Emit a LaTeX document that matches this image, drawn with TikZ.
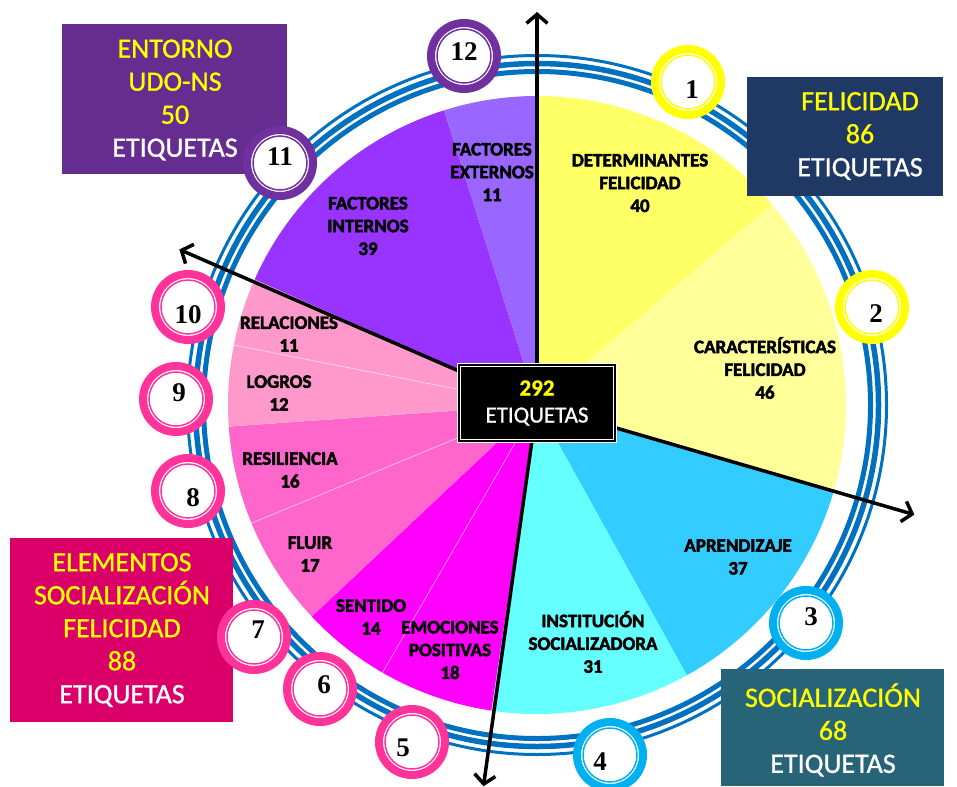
\documentclass[tikz,border=0pt]{standalone}
\usepackage{fontspec}
\setmainfont{Carlito}
\newfontfamily\slicefont{Carlito Bold}[FakeBold=2.5]
\newfontfamily\boxfont{Carlito}[FakeBold=1]
\newfontfamily\numfont{Liberation Serif Bold}
\usetikzlibrary{arrows.meta}

\definecolor{dfel}{HTML}{FFFF66}
\definecolor{cfel}{HTML}{FFFF99}
\definecolor{apren}{HTML}{33CCFF}
\definecolor{isoc}{HTML}{66FFFF}
\definecolor{emo}{HTML}{FF00FF}
\definecolor{fluir}{HTML}{FF66CC}
\definecolor{logro}{HTML}{FF99CC}
\definecolor{fint}{HTML}{9933FF}
\definecolor{fext}{HTML}{9966FF}
\definecolor{ringc}{HTML}{0070C0}
\definecolor{cyel}{HTML}{FFFF00}
\definecolor{cblu}{HTML}{00B0F0}
\definecolor{cpnk}{HTML}{FF3399}
\definecolor{cpur}{HTML}{7030A0}
\definecolor{bxudo}{HTML}{662D91}
\definecolor{bxfel}{HTML}{1F3864}
\definecolor{bxsoc}{HTML}{276478}
\definecolor{bxele}{HTML}{DB0069}
\newcommand{\yw}[1]{\textcolor{cyel}{#1}}

\begin{document}
\begin{tikzpicture}[x=1pt,y=-1pt,>={Straight Barb[length=9pt,width=21pt,line width=3.5pt]},
  slice lbl/.style={font=\slicefont\fontsize{19}{22.8}\selectfont,align=center,inner sep=0pt},
  box/.style={anchor=north west,inner sep=0pt,fill=#1},
  box txt/.style={font=\boxfont\fontsize{28}{33}\selectfont,align=center,text=white,inner sep=0pt},
  num ring/.style={circle,minimum size=66pt,inner sep=0pt,line width=8pt,draw=#1,fill=white,
    path picture={\draw[#1,line width=1.5pt] (path picture bounding box.center) circle[radius=27pt];}},
  num/.style={font=\numfont\fontsize{27}{27}\selectfont,inner sep=0pt},
  sep/.style={white,opacity=0.6,line width=0.7pt}]

  \useasboundingbox (0,0) rectangle (957,786);
  \coordinate (ctr) at (537,405);

  % pie
  \fill[dfel] (ctr) -- ++(90:309pt) arc[start angle=90,end angle=40.5,radius=309pt] -- cycle;
  \fill[cfel] (ctr) -- ++(40.5:309pt) arc[start angle=40.5,end angle=-16.2,radius=309pt] -- cycle;
  \fill[apren] (ctr) -- ++(-16.2:309pt) arc[start angle=-16.2,end angle=-61,radius=309pt] -- cycle;
  \fill[isoc] (ctr) -- ++(-61:309pt) arc[start angle=-61,end angle=-98.5,radius=309pt] -- cycle;
  \fill[emo] (ctr) -- ++(-98.5:309pt) arc[start angle=-98.5,end angle=-136.8,radius=309pt] -- cycle;
  \fill[fluir] (ctr) -- ++(-136.8:309pt) arc[start angle=-136.8,end angle=-176,radius=309pt] -- cycle;
  \fill[logro] (ctr) -- ++(-176:309pt) arc[start angle=-176,end angle=-204,radius=309pt] -- cycle;
  \fill[fint] (ctr) -- ++(-204:309pt) arc[start angle=-204,end angle=-252.5,radius=309pt] -- cycle;
  \fill[fext] (ctr) -- ++(-252.5:309pt) arc[start angle=-252.5,end angle=-270,radius=309pt] -- cycle;
  \draw[sep] (ctr) -- ++(-120:309pt);
  \draw[sep] (ctr) -- ++(-157.5:309pt);
  \draw[sep] (ctr) -- ++(168.8:309pt);

  % blue rings
  \draw[ringc,line width=5pt] (ctr) circle[radius=333.5pt];
  \draw[ringc,line width=5.5pt] (ctr) circle[radius=341.5pt];
  \draw[ringc,line width=3pt] (ctr) circle[radius=349.5pt];

  % axes
  \path (ctr) ++(90:393pt) coordinate (axN);
  \path (ctr) ++(-16.2:393pt) coordinate (axE);
  \path (ctr) ++(-98:385pt) coordinate (axS);
  \path (ctr) ++(156.5:390pt) coordinate (axW);
  \path[->,line width=3.5pt]
    (ctr) edge (axN)
          edge (axE)
          edge (axS)
          edge (axW);

  \node[fill=black,draw=white,double=black,double distance=1.2pt,line width=1.5pt,
    minimum width=156pt,minimum height=76pt,align=center,text=white,
    font=\boxfont\fontsize{23}{27}\selectfont] (tot) at (537,403) {\yw{\bfseries 292}\\ETIQUETAS};

  % slice labels
  \node[slice lbl] (detfel) at (640,183) {DETERMINANTES\\FELICIDAD\\40};
  \node[slice lbl] (carfel) at (765,368) {CARACTERÍSTICAS\\FELICIDAD\\46};
  \node[slice lbl] (apren) at (738,557) {APRENDIZAJE\\37};
  \node[slice lbl] (instsoc) at (593,642) {INSTITUCIÓN\\SOCIALIZADORA\\31};
  \node[slice lbl] (emopos) at (450,650) {EMOCIONES\\POSITIVAS\\18};
  \node[slice lbl] (sentido) at (371,617) {SENTIDO\\14};
  \node[slice lbl] (fluir) at (310,554) {FLUIR\\17};
  \node[slice lbl] (resil) at (290,470) {RESILIENCIA\\16};
  \node[slice lbl] (logros) at (279,393) {LOGROS\\12};
  \node[slice lbl] (relac) at (289,334) {RELACIONES\\11};
  \node[slice lbl] (facint) at (368,226) {FACTORES\\INTERNOS\\39};
  \node[slice lbl] (facext) at (492,172) {FACTORES\\EXTERNOS\\11};

  % group boxes
  \node[box=bxudo,minimum width=225pt,minimum height=150pt] (bxudo) at (62,24) {};
  \node[box txt] (txudo) at (175,100) {\yw{ENTORNO}\\\yw{UDO-NS}\\\yw{50}\\ETIQUETAS};
  \node[box=bxfel,minimum width=196pt,minimum height=119pt] (bxfel) at (747,77) {};
  \node[box txt] (txfel) at (860,136) {\yw{FELICIDAD}\\\yw{86}\\ETIQUETAS};
  \node[box=bxsoc,minimum width=223pt,minimum height=117pt] (bxsoc) at (721,669) {};
  \node[box txt] (txsoc) at (833,730) {\yw{SOCIALIZACIÓN}\\\yw{68}\\ETIQUETAS};
  \node[box=bxele,minimum width=223pt,minimum height=184pt] (bxele) at (10,538) {};
  \node[box txt] (txele) at (122,630) {\yw{ELEMENTOS}\\\yw{SOCIALIZACIÓN}\\\yw{FELICIDAD}\\\yw{88}\\ETIQUETAS};

  % numbered circles
  \node[num ring=cyel] (c1) at (688,82) {};
  \node[num ring=cyel] (c2) at (872,307) {};
  \node[num ring=cblu] (c3) at (806,623) {};
  \node[num ring=cblu] (c4) at (610,755) {};
  \node[num ring=cpnk] (c5) at (412,742) {};
  \node[num ring=cpnk] (c6) at (320,689) {};
  \node[num ring=cpnk] (c7) at (254,637) {};
  \node[num ring=cpnk] (c8) at (188,491) {};
  \node[num ring=cpnk] (c9) at (176,399) {};
  \node[num ring=cpnk] (c10) at (188,307) {};
  \node[num ring=cpur] (c11) at (280,163) {};
  \node[num ring=cpur] (c12) at (464,56) {};
  \node[num] (t1) at (692,90) {1};
  \node[num] (t2) at (876,314) {2};
  \node[num] (t3) at (811,617) {3};
  \node[num] (t4) at (600,762) {4};
  \node[num] (t5) at (403,748) {5};
  \node[num] (t6) at (324,685) {6};
  \node[num] (t7) at (258,630) {7};
  \node[num] (t8) at (193,498) {8};
  \node[num] (t9) at (179,393) {9};
  \node[num] (t10) at (188,315) {10};
  \node[num] (t11) at (280,157) {11};
  \node[num] (t12) at (464,52) {12};
\end{tikzpicture}
\end{document}
